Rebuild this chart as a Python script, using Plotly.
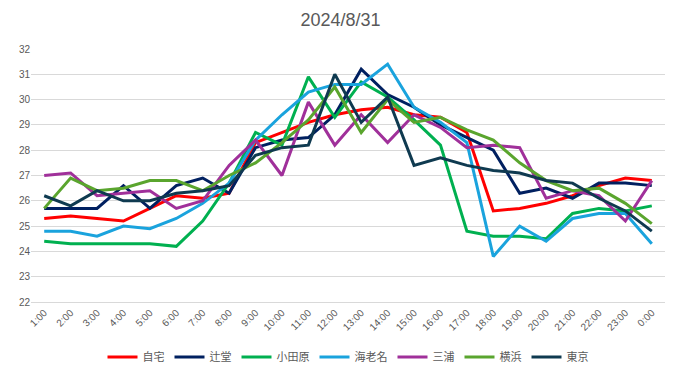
import plotly.graph_objects as go

hours = ["1:00","2:00","3:00","4:00","5:00","6:00","7:00","8:00","9:00","10:00","11:00","12:00",
         "13:00","14:00","15:00","16:00","17:00","18:00","19:00","20:00","21:00","22:00","23:00","0:00"]

jitaku   = [25.3,25.4,25.3,25.2,25.7,26.2,26.1,26.3,28.3,28.7,29.1,29.4,29.6,29.7,29.4,29.3,28.7,25.6,25.7,25.9,26.2,26.6,26.9,26.8]
tsujido  = [25.7,25.7,25.7,26.6,25.7,26.6,26.9,26.3,28.1,28.4,28.5,29.4,31.2,30.2,29.7,29.0,28.5,28.0,26.3,26.5,26.1,26.7,26.7,26.6]
odawara  = [24.4,24.3,24.3,24.3,24.3,24.2,25.2,26.7,28.7,28.2,30.9,29.3,30.7,30.1,29.2,28.2,24.8,24.6,24.6,24.5,25.5,25.7,25.6,25.8]
ebina    = [24.8,24.8,24.6,25.0,24.9,25.3,25.9,26.7,28.4,29.4,30.3,30.6,30.6,31.4,29.7,29.1,28.3,23.8,25.0,24.4,25.3,25.5,25.5,24.3]
miura    = [27.0,27.1,26.2,26.3,26.4,25.7,26.0,27.4,28.4,27.0,29.9,28.2,29.4,28.3,29.4,28.9,28.1,28.2,28.1,26.1,26.4,26.2,25.2,26.8]
yokohama = [25.7,26.9,26.4,26.5,26.8,26.8,26.4,27.0,27.5,28.3,29.2,30.5,28.7,30.0,29.1,29.3,28.8,28.4,27.5,26.8,26.4,26.5,25.9,25.1]
tokyo    = [26.2,25.8,26.4,26.0,26.0,26.3,26.4,26.6,27.8,28.1,28.2,31.0,29.1,30.1,27.4,27.7,27.4,27.2,27.1,26.8,26.7,26.1,25.6,24.8]

names = ["自宅","辻堂","小田原","海老名","三浦","横浜","東京"]
series = [jitaku, tsujido, odawara, ebina, miura, yokohama, tokyo]
colors = ["#FF0000","#002060","#00B050","#1AA3DD","#A0309A","#5AA52E","#0F3A50"]

fig = go.Figure()
for n, s, c in zip(names, series, colors):
    fig.add_trace(go.Scatter(x=hours, y=s, name=n, mode="lines",
                             line=dict(color=c, width=3)))

fig.update_layout(
    width=681, height=379,
    paper_bgcolor="white", plot_bgcolor="white",
    margin=dict(l=31, r=16, t=49, b=77, autoexpand=False),
    title=dict(text="2024/8/31", x=0.5, xanchor="center", y=0.947, yanchor="middle",
               font=dict(family="Liberation Sans, Arial", size=18, color="#595959")),
    font=dict(family="Liberation Sans, Noto Sans CJK JP", color="#595959", size=10),
    showlegend=True,
    legend=dict(orientation="h", x=0.5, xanchor="center", y=-0.217, yanchor="middle",
                font=dict(family="Noto Sans CJK JP", size=11, color="#595959"),
                itemwidth=30, tracegroupgap=0),
    xaxis=dict(type="category", range=[-0.5, 23.5], tickangle=-45, showgrid=False,
               showline=True, linecolor="#D9D9D9", linewidth=1, ticks="", automargin=False,
               tickfont=dict(size=10, color="#595959"), fixedrange=True),
    yaxis=dict(range=[22, 32], dtick=1, showgrid=True, gridcolor="#D9D9D9", gridwidth=1,
               zeroline=False, showline=False, ticks="", automargin=False,
               tickfont=dict(size=10, color="#595959"), fixedrange=True),
)

fig.write_html("out.html", config={"displayModeBar": False, "staticPlot": True},
               post_script="document.body.style.margin='0';document.body.style.overflow='hidden';")
